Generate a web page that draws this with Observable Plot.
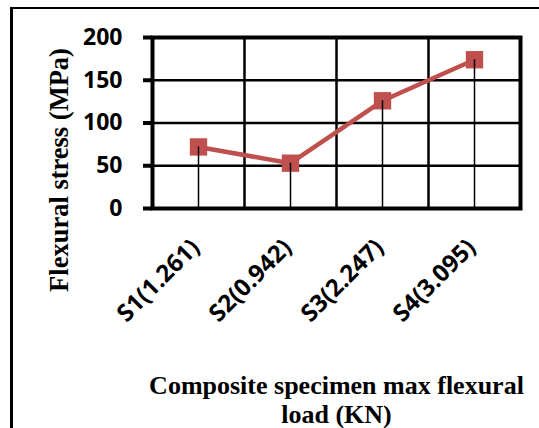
<!DOCTYPE html>
<html>
<head>
<meta charset="utf-8">
<script src="https://cdn.jsdelivr.net/npm/d3@7"></script>
<script src="https://cdn.jsdelivr.net/npm/@observablehq/plot@0.6"></script>
<style>
  html, body { margin: 0; padding: 0; background: #fff; }
  #wrap { position: relative; width: 539px; height: 428px; overflow: hidden; }
  #border { position: absolute; left: 10px; top: 7px; right: -10px; bottom: -10px;
            border-top: 2px solid #000; border-left: 3px solid #000; pointer-events: none; }
</style>
</head>
<body>
<div id="wrap"><div id="border"></div></div>
<script>
const categories = ["S1(1.261)", "S2(0.942)", "S3(2.247)", "S4(3.095)"];
const stress = [72, 53, 126, 174];
const yTicks = [0, 50, 100, 150, 200];
const yTitle = "Flexural stress (MPa)";
const xTitle = "Composite specimen max flexural\nload (KN)";

const data = categories.map((c, i) => ({cat: c, pos: i + 0.5, v: stress[i]}));
const bounds = d3.range(categories.length + 1);
const red = "#C0504D";
const titleFont = "'Liberation Serif', 'Times New Roman', serif";
const tickFont = "'Open Sans', sans-serif";

const chart = Plot.plot({
  width: 539,
  height: 428,
  marginLeft: 152,
  marginRight: 19,
  marginTop: 37,
  marginBottom: 220,
  style: {background: "transparent", overflow: "visible"},
  x: {type: "linear", domain: [0, categories.length]},
  y: {domain: [0, 200]},
  marks: [
    Plot.ruleY(yTicks, {stroke: "#000", strokeWidth: 2.5}),
    Plot.ruleX(bounds, {stroke: "#000", strokeWidth: 2.5}),
    Plot.frame({stroke: "#000", strokeWidth: 4}),
    Plot.axisY({ticks: yTicks, tickSize: 9, tickPadding: 21, strokeWidth: 4, label: null,
      fontSize: 23, fontWeight: "bold", fontFamily: tickFont, fill: "#000"}),
    Plot.axisX({ticks: data.map(d => d.pos), tickFormat: (d, i) => categories[i], tickSize: 0,
      tickPadding: 35, dx: -3, tickRotate: -45, label: null,
      fontSize: 24, fontWeight: "bold", fontFamily: tickFont, fill: "#000"}),
    Plot.line(data, {x: "pos", y: "v", stroke: red, strokeWidth: 4.5}),
    Plot.dot(data, {x: "pos", y: "v", symbol: "square", r: 9.8, fill: red, stroke: null}),
    Plot.ruleX(data, {x: "pos", y1: 0, y2: "v", stroke: "#000", strokeWidth: 1.5}),
    Plot.text([yTitle], {frameAnchor: "left", textAnchor: "middle", rotate: -90, dx: -93, dy: 47,
      fontSize: 26.5, fontWeight: "bold", fontFamily: titleFont, fill: "#000"}),
    Plot.text([xTitle], {frameAnchor: "bottom", dy: 191, lineAnchor: "middle", lineHeight: 1.1,
      fontSize: 26, fontWeight: "bold", fontFamily: titleFont, fill: "#000"})
  ]
});
document.getElementById("wrap").prepend(chart);
</script>
</body>
</html>
